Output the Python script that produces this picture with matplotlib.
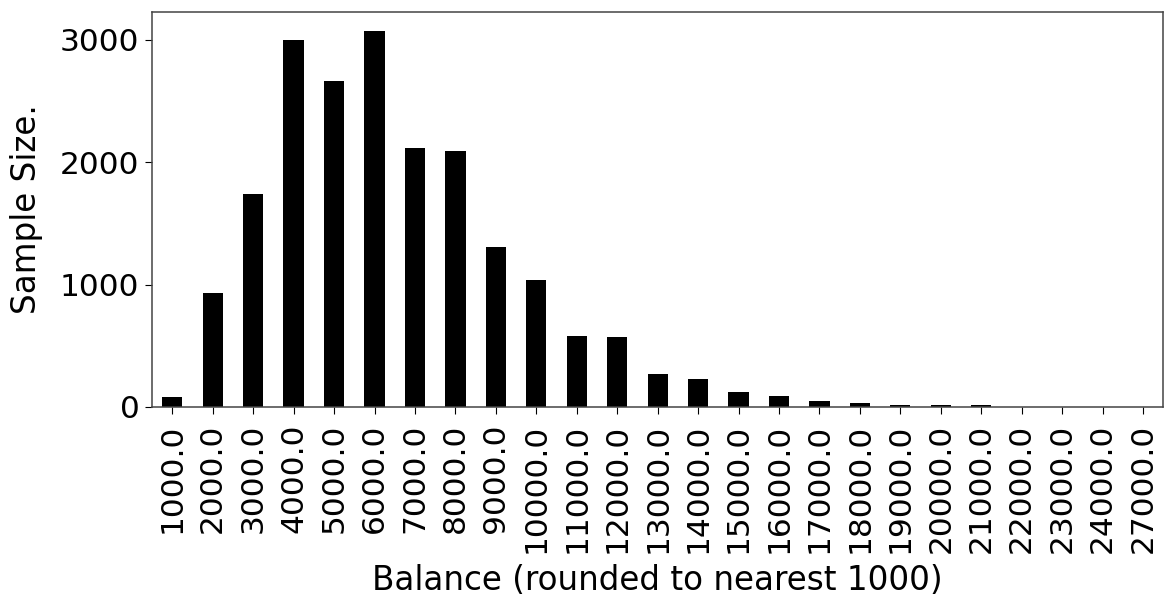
import numpy as np
import pandas as pd
from matplotlib import pyplot as plt

balances = [1000.0, 2000.0, 3000.0, 4000.0, 5000.0, 6000.0, 7000.0, 8000.0,
            9000.0, 10000.0, 11000.0, 12000.0, 13000.0, 14000.0, 15000.0,
            16000.0, 17000.0, 18000.0, 19000.0, 20000.0, 21000.0, 22000.0,
            23000.0, 24000.0, 27000.0]
counts = [80, 935, 1740, 3000, 2660, 3075, 2120, 2090,
          1310, 1040, 580, 570, 270, 230, 120,
          90, 48, 32, 18, 18, 16, 3,
          2, 1, 1]

series = pd.Series(counts, index=balances)

plt.rcParams['font.size'] = 22.5
fig = plt.figure(figsize=(11.65, 5.95), dpi=100)
ax = fig.add_axes([0.1305, 0.316, 0.868, 0.664])
series.plot(kind='bar', color='black', ax=ax)
ax.set_xlabel('Balance (rounded to nearest 1000)', fontsize=23.5, labelpad=8)
ax.set_ylabel('Sample Size.', fontsize=23.5, labelpad=12)
ax.set_yticks([0, 1000, 2000, 3000])
ax.tick_params(axis='x', length=5, pad=7)
ax.tick_params(axis='y', length=5, pad=4)
for sp in ax.spines.values():
    sp.set_color('#444444')
    sp.set_linewidth(1.1)
fig.savefig('out.png', dpi=100)
plt.close()
